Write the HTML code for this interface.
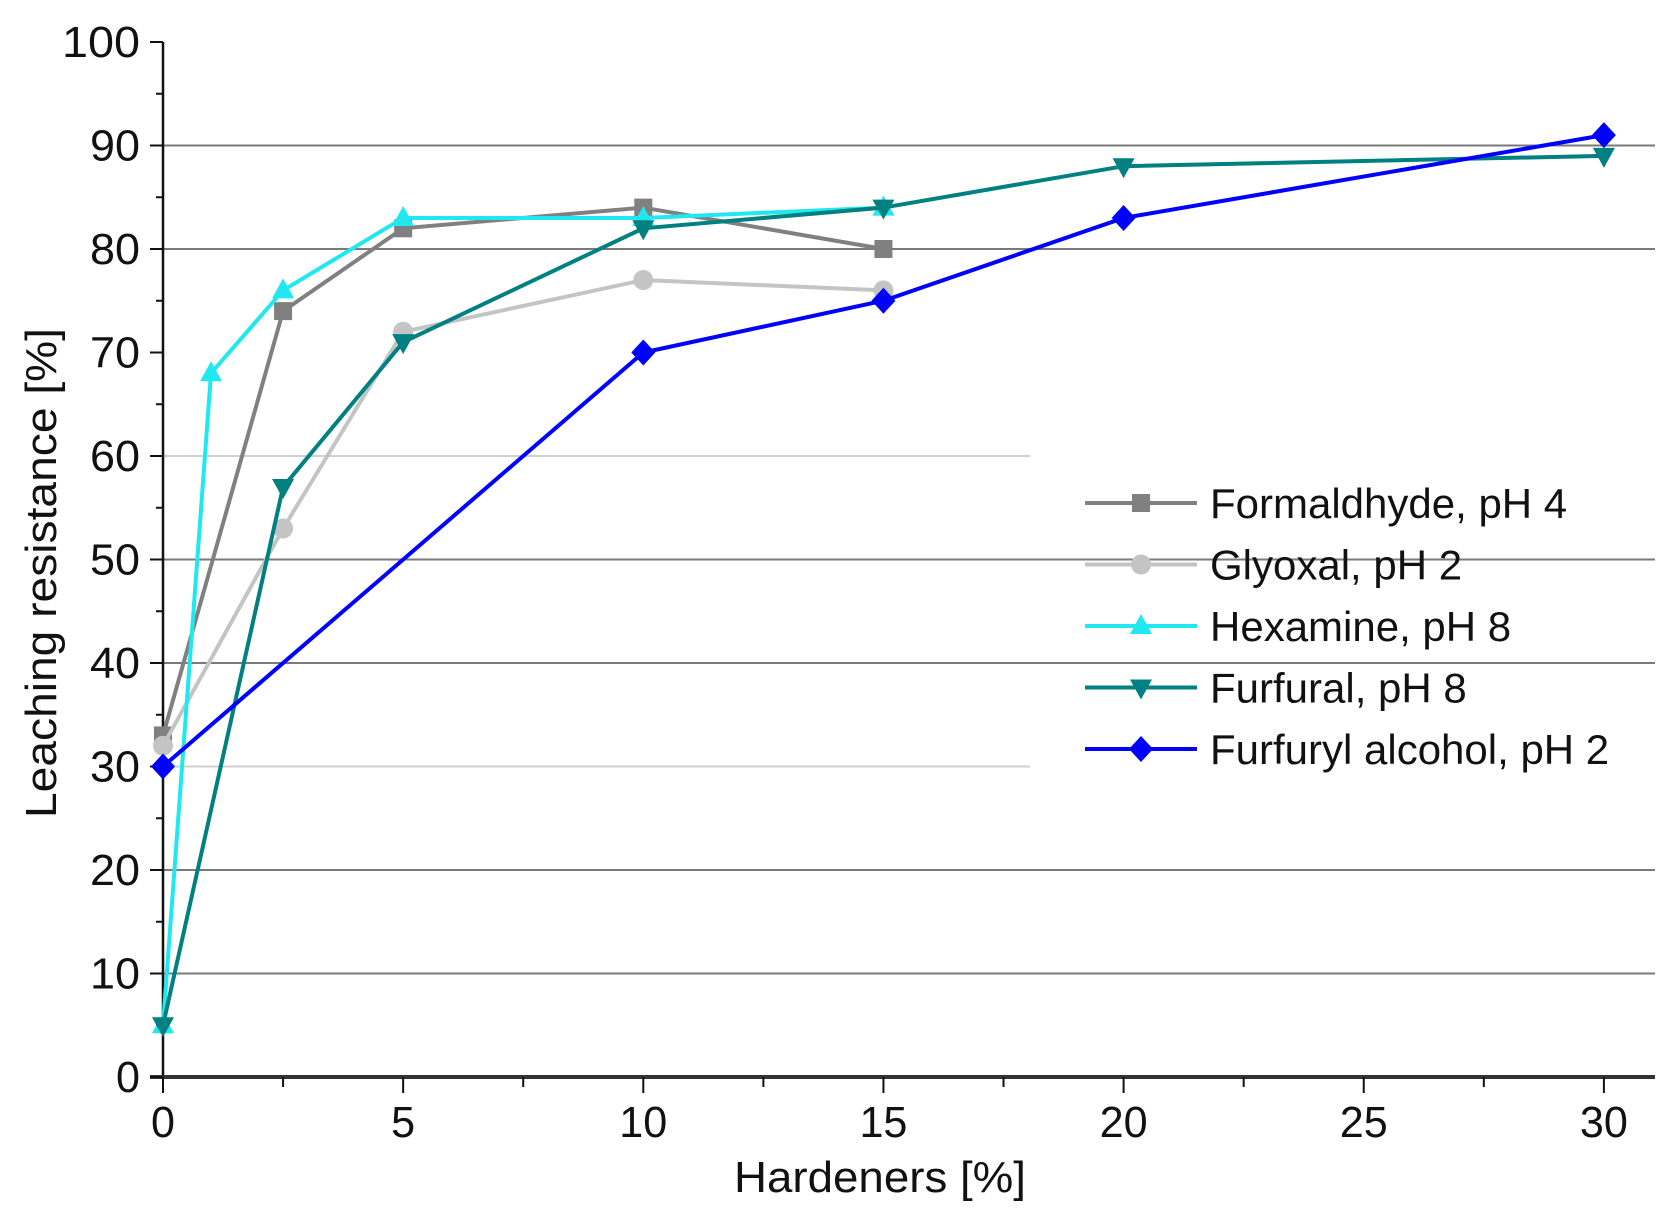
<!DOCTYPE html>
<html><head><meta charset="utf-8"><style>
html,body{margin:0;padding:0;background:#fff}
svg{display:block}
text{font-family:"Liberation Sans",Arial,sans-serif;fill:#111}
</style></head><body>
<svg id="s" width="1680" height="1215" xmlns="http://www.w3.org/2000/svg"></svg>
<script>
const s=document.getElementById('s');
const X=v=>163+v*48.03, Y=v=>1077-v*10.35;
let h='';
[[90,0],[80,0],[60,1],[50,0],[40,0],[30,1],[20,0],[10,0]].forEach(([v,light])=>{
  h+=`<line x1="163" x2="${light?1030:1655}" y1="${Y(v)}" y2="${Y(v)}" stroke="${light?'#d0d0d0':'#7a7a7a'}" stroke-width="2"/>`;
});
h+=`<line x1="163" x2="163" y1="${Y(100)}" y2="1079" stroke="#111" stroke-width="2.5"/>`;
h+=`<line x1="150" x2="1655" y1="1077" y2="1077" stroke="#333" stroke-width="4"/>`;
for(let v=0;v<=100;v+=5){
  const big=v%10==0;
  h+=`<line x1="${big?150:156}" x2="163" y1="${Y(v)}" y2="${Y(v)}" stroke="#111" stroke-width="2"/>`;
  if(big) h+=`<text x="140" y="${Y(v)+15}" font-size="44" text-anchor="end" textLength="${v==100?78:(v==0?24:50)}" lengthAdjust="spacingAndGlyphs">${v}</text>`;
}
for(let v=0;v<=30;v+=2.5){
  const big=v%5==0;
  h+=`<line x1="${X(v)}" x2="${X(v)}" y1="1077" y2="${big?1093:1087}" stroke="#111" stroke-width="2"/>`;
  if(big) h+=`<text x="${X(v)}" y="1137" font-size="44" text-anchor="middle" textLength="${v<10?24:48}" lengthAdjust="spacingAndGlyphs">${v}</text>`;
}
h+=`<text x="880" y="1192" font-size="44" text-anchor="middle" textLength="292" lengthAdjust="spacingAndGlyphs">Hardeners [%]</text>`;
h+=`<text transform="translate(56,573) rotate(-90)" font-size="44" text-anchor="middle" textLength="490" lengthAdjust="spacingAndGlyphs">Leaching resistance [%]</text>`;
function mk(t,x,y,c){
  if(t=='sq') return `<rect x="${x-9}" y="${y-9}" width="18" height="18" fill="${c}"/>`;
  if(t=='ci') return `<circle cx="${x}" cy="${y}" r="10" fill="${c}"/>`;
  if(t=='up') return `<polygon points="${x},${y-12} ${x+11},${y+8} ${x-11},${y+8}" fill="${c}"/>`;
  if(t=='dn') return `<polygon points="${x},${y+12} ${x+11},${y-8} ${x-11},${y-8}" fill="${c}"/>`;
  return `<polygon points="${x},${y-13} ${x+12},${y} ${x},${y+13} ${x-12},${y}" fill="${c}"/>`;
}
const S=[
 ['Formaldhyde, pH 4','#808080','sq',[[0,33],[2.5,74],[5,82],[10,84],[15,80]]],
 ['Glyoxal, pH 2','#c4c4c4','ci',[[0,32],[2.5,53],[5,72],[10,77],[15,76]]],
 ['Hexamine, pH 8','#1fe8f0','up',[[0,5],[1,68],[2.5,76],[5,83],[10,83],[15,84]]],
 ['Furfural, pH 8','#008080','dn',[[0,5],[2.5,57],[5,71],[10,82],[15,84],[20,88],[30,89]]],
 ['Furfuryl alcohol, pH 2','#0000ff','di',[[0,30],[10,70],[15,75],[20,83],[30,91]]]
];
S.forEach((sr,i)=>{
  const [n,c,t,d]=sr;
  h+=`<polyline fill="none" stroke="${c}" stroke-width="4" points="${d.map(p=>X(p[0])+','+Y(p[1])).join(' ')}"/>`;
  d.forEach(p=>h+=mk(t,X(p[0]),Y(p[1]),c));
  const ly=503+i*61.5;
  h+=`<line x1="1085" x2="1197" y1="${ly}" y2="${ly}" stroke="${c}" stroke-width="4"/>`+mk(t,1141,ly,c);
  h+=`<text x="1210" y="${ly+15}" font-size="42">${n}</text>`;
});
s.innerHTML=h;
</script>
</body></html>
